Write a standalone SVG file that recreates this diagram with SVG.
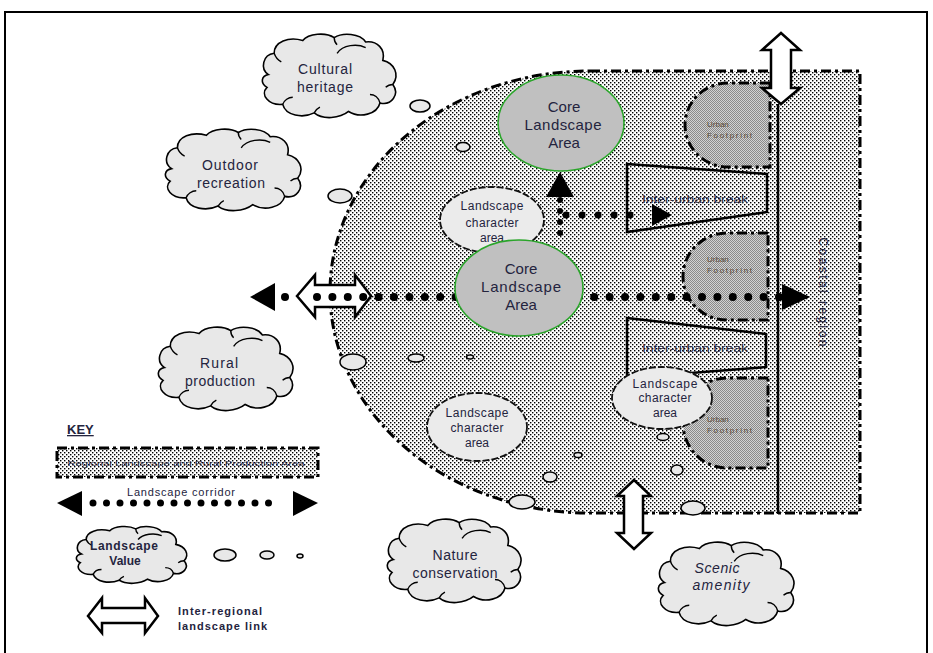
<svg xmlns="http://www.w3.org/2000/svg" xmlns:xlink="http://www.w3.org/1999/xlink" width="933" height="653" viewBox="0 0 933 653">
<defs>
<pattern id="dots" width="4" height="4" patternUnits="userSpaceOnUse"><rect width="4" height="4" fill="#fff"/><rect x="0" y="0" width="1.4" height="1.4" fill="#000"/><rect x="2" y="2" width="1.4" height="1.4" fill="#000"/></pattern>
<pattern id="grey" width="2" height="2" patternUnits="userSpaceOnUse"><rect width="2" height="2" fill="#d2d2d2"/><rect width="1" height="1" fill="#8a8a8a"/><rect x="1" y="1" width="1" height="1" fill="#8a8a8a"/></pattern>
<symbol id="cloud" viewBox="0 0 100 62" preserveAspectRatio="none" overflow="visible">
<path class="cl" d="M 8,30 C 2,26 4,16 12,15 C 12,7 22,3 32,6 C 36,1 48,0 54,4 C 60,0 72,1 76,7 C 84,6 90,12 88,20 C 96,22 100,30 95,37 C 100,44 94,52 86,50 C 84,58 72,61 64,56 C 58,61 46,62 40,57 C 32,61 20,59 18,51 C 8,52 2,44 7,39 C 2,36 3,31 8,30 Z"/>
<path class="cli" d="M 56,15 C 60,9 70,8 76,11 M 86,50 C 85,46 82,44 79,44 M 18,51 C 19,48 22,46 25,46 M 12,15 C 13,18 15,20 17,21 M 54,4 C 54,6 55,8 56,9 M 95,37 C 93,37 91,38 90,39 M 40,57 C 41,55 42,54 44,53"/>
</symbol>
</defs>
<style>
.cl{fill:#e8e8e8;stroke:#000;stroke-width:1.6;vector-effect:non-scaling-stroke}
.cli{fill:none;stroke:#000;stroke-width:1.4;vector-effect:non-scaling-stroke}
.dd{stroke:#000;stroke-width:3;stroke-dasharray:10 4 3 4;}
.t{font-family:"Liberation Sans",Arial,sans-serif;fill:#24243e;text-anchor:middle}
.ts{font-family:"Liberation Sans",Arial,sans-serif;fill:#24243e;text-anchor:start}
.big{font-size:15px}
.cloudt{font-size:14px}
.lca{font-size:12px}
.tiny{font-size:8px;fill:#5a4a3a}
.ub{fill:url(#grey);stroke:#000;stroke-width:3;stroke-dasharray:10 4 3 4}
.lcae{fill:#ebebeb;stroke:#111;stroke-width:1.8;stroke-dasharray:7 2}
.core{fill:#c0c0c0;stroke:#2aa52a;stroke-width:1.6}
.blob{fill:#e8e8e8;stroke:#000;stroke-width:1.5}
.hollow{fill:#fff;stroke:#000;stroke-width:2.5;stroke-linejoin:miter}
.dotline{fill:none;stroke:#000;stroke-linecap:round}
</style>
<rect x="0" y="0" width="933" height="653" fill="#fff"/>
<rect id="frame" x="5" y="12" width="922" height="660" fill="none" stroke="#000" stroke-width="2"/>

<g id="region">
<path d="M 590,71 L 860,71 L 860,513 L 590,513 A 260,221 0 0 1 590,71 Z" fill="url(#dots)" class="dd"/>
</g>

<g id="inter-urban-break-1">
<polygon points="627,164 767,174 767,212 627,232" fill="url(#dots)" stroke="#000" stroke-width="2.5"/>
<text class="t" x="695" y="203" font-size="10" textLength="106" lengthAdjust="spacingAndGlyphs" fill="#2a3a6a">Inter-urban break</text>
</g>
<g id="inter-urban-break-2">
<polygon points="627,318 766,334 766,367 627,378" fill="url(#dots)" stroke="#000" stroke-width="2.5"/>
<text class="t" x="695" y="352" font-size="10" textLength="106" lengthAdjust="spacingAndGlyphs" fill="#2a3a6a">Inter-urban break</text>
</g>

<g id="urban-footprint-1">
<path class="ub" d="M 770,83 L 728,83 A 43,42 0 0 0 728,167 L 770,167 Z"/>
<text class="ts tiny" x="707" y="127">Urban</text>
<text class="ts tiny" x="707" y="138" textLength="45">Footprint</text>
</g>
<g id="urban-footprint-2">
<path class="ub" d="M 768,233 L 727,233 A 44,43.5 0 0 0 727,320 L 768,320 Z"/>
<text class="ts tiny" x="707" y="262">Urban</text>
<text class="ts tiny" x="707" y="273" textLength="45">Footprint</text>
</g>
<g id="urban-footprint-3">
<path class="ub" d="M 768,378 L 727,378 A 44,45 0 0 0 727,468 L 768,468 Z"/>
<text class="ts tiny" x="707" y="422">Urban</text>
<text class="ts tiny" x="707" y="433" textLength="45">Footprint</text>
</g>

<g id="connectors">
<line x1="778" y1="104" x2="778" y2="514" stroke="#000" stroke-width="2.5"/>
<polygon class="hollow" points="781,33 762,50 771,50 771,88 762,88 781,104 800,88 791,88 791,50 800,50"/>
<polygon class="hollow" points="634,480 617,496 624,496 624,533 617,533 634,549 651,533 643,533 643,496 651,496"/>
<polygon class="hollow" points="297,296 315,275 315,285 355,285 355,275 371,296 355,317 355,307 315,307 315,317"/>
<line class="dotline" x1="317" y1="297" x2="780" y2="297" stroke-width="8" stroke-dasharray="0 15.4"/>
<circle cx="285" cy="297" r="4"/>
<polygon points="250,297 275,283 275,311"/>
<polygon points="810,297 782,284 782,310"/>
<line class="dotline" x1="560" y1="200" x2="560" y2="244" stroke-width="6" stroke-dasharray="0 11"/>
<polygon points="560,172 546,197 574,197"/>
<line class="dotline" x1="566" y1="215" x2="645" y2="215" stroke-width="7" stroke-dasharray="0 16"/>
<polygon points="652,204 652,226 672,215"/>
</g>

<g id="landscape-value-blobs">
<ellipse class="blob" cx="420" cy="106" rx="10" ry="6"/>
<ellipse class="blob" cx="340" cy="196" rx="12" ry="7"/>
<ellipse class="blob" cx="463" cy="147" rx="7" ry="4.5"/>
<ellipse class="blob" cx="353" cy="362" rx="13" ry="8"/>
<ellipse class="blob" cx="416" cy="358" rx="8" ry="4"/>
<ellipse class="blob" cx="470" cy="357" rx="3.5" ry="2"/>
<ellipse class="blob" cx="550" cy="477" rx="7" ry="5"/>
<ellipse class="blob" cx="522" cy="502" rx="13" ry="7"/>
<ellipse class="blob" cx="578" cy="455" rx="4" ry="2.5"/>
<ellipse class="blob" cx="663" cy="437" rx="6" ry="3.5"/>
<ellipse class="blob" cx="677" cy="470" rx="6" ry="5"/>
<ellipse class="blob" cx="693" cy="508" rx="12" ry="7"/>
</g>

<g id="lca-1">
<ellipse class="lcae" cx="492" cy="220" rx="52" ry="33"/>
<text class="t lca" x="492" y="210" textLength="63">Landscape</text>
<text class="t lca" x="492" y="227" textLength="53">character</text>
<text class="t lca" x="492" y="242">area</text>
</g>
<g id="core-1">
<ellipse class="core" cx="561" cy="123" rx="63" ry="48"/>
<text class="t big" x="564" y="112">Core</text>
<text class="t big" x="563" y="130" textLength="77">Landscape</text>
<text class="t big" x="564" y="148">Area</text>
</g>
<g id="core-2">
<ellipse class="core" cx="519" cy="288" rx="64" ry="48"/>
<text class="t big" x="521" y="274">Core</text>
<text class="t big" x="521" y="292" textLength="80">Landscape</text>
<text class="t big" x="521" y="310">Area</text>
</g>
<g id="lca-2">
<ellipse class="lcae" cx="477" cy="427" rx="50" ry="34"/>
<text class="t lca" x="477" y="417" textLength="63">Landscape</text>
<text class="t lca" x="477" y="432" textLength="53">character</text>
<text class="t lca" x="477" y="447">area</text>
</g>
<g id="lca-3">
<ellipse class="lcae" cx="662" cy="398" rx="50" ry="31"/>
<text class="t lca" x="665" y="388" textLength="65">Landscape</text>
<text class="t lca" x="665" y="402" textLength="53">character</text>
<text class="t lca" x="665" y="417">area</text>
</g>

<g id="coastal-region">
<text class="t" x="0" y="0" font-size="12" textLength="109" transform="translate(819,292) rotate(90)">Coastal region</text>
</g>

<g id="cloud-cultural-heritage">
<use xlink:href="#cloud" href="#cloud" x="257" y="32" width="143" height="88"/>
<text class="t cloudt" x="325" y="74" textLength="54">Cultural</text>
<text class="t cloudt" x="325" y="92" textLength="56">heritage</text>
</g>
<g id="cloud-outdoor-recreation">
<use xlink:href="#cloud" href="#cloud" x="160" y="127" width="145" height="86"/>
<text class="t cloudt" x="230" y="170" textLength="56">Outdoor</text>
<text class="t cloudt" x="231" y="188" textLength="68">recreation</text>
</g>
<g id="cloud-rural-production">
<use xlink:href="#cloud" href="#cloud" x="153" y="325" width="144" height="88"/>
<text class="t cloudt" x="219" y="368" textLength="38">Rural</text>
<text class="t cloudt" x="220" y="386" textLength="70">production</text>
</g>
<g id="cloud-nature-conservation">
<use xlink:href="#cloud" href="#cloud" x="382" y="517" width="143" height="88"/>
<text class="t cloudt" x="455" y="560" textLength="45">Nature</text>
<text class="t cloudt" x="455" y="578" textLength="85">conservation</text>
</g>
<g id="cloud-scenic-amenity">
<use xlink:href="#cloud" href="#cloud" x="653" y="540" width="145" height="88"/>
<text class="t cloudt" x="717" y="573" font-style="italic" textLength="45">Scenic</text>
<text class="t cloudt" x="721" y="590" font-style="italic" textLength="57">amenity</text>
</g>

<g id="key">
<text class="ts" x="67" y="434" font-size="13" font-weight="bold" text-decoration="underline">KEY</text>
<rect x="57" y="448" width="261" height="29" fill="url(#dots)" class="dd"/>
<text class="t" x="186" y="466" font-size="8" textLength="237" lengthAdjust="spacingAndGlyphs" fill="#2a3a6a">Regional Landscape and Rural Production Area</text>
<text class="t" x="181" y="496" font-size="11" textLength="108" fill="#444">Landscape corridor</text>
<polygon points="57,503 82,491 82,516"/>
<polygon points="318,503 293,491 293,516"/>
<line class="dotline" x1="93" y1="503" x2="282" y2="503" stroke-width="7" stroke-dasharray="0 13.5"/>
<use xlink:href="#cloud" href="#cloud" x="72" y="525" width="118" height="60"/>
<text class="t" x="124" y="550" font-size="12" font-weight="bold" textLength="68">Landscape</text>
<text class="t" x="125" y="565" font-size="12" font-weight="bold">Value</text>
<ellipse class="blob" cx="225" cy="555" rx="11" ry="6"/>
<ellipse class="blob" cx="267" cy="555" rx="7" ry="4"/>
<ellipse class="blob" cx="300" cy="556" rx="3" ry="2"/>
<polygon class="hollow" points="88,616 102,598 102,608 145,608 145,598 158,616 145,633 145,623 102,623 102,633"/>
<text class="ts" x="178" y="615" font-size="11" font-weight="bold" textLength="84">Inter-regional</text>
<text class="ts" x="178" y="630" font-size="11" font-weight="bold" textLength="89">landscape link</text>
</g>
</svg>
